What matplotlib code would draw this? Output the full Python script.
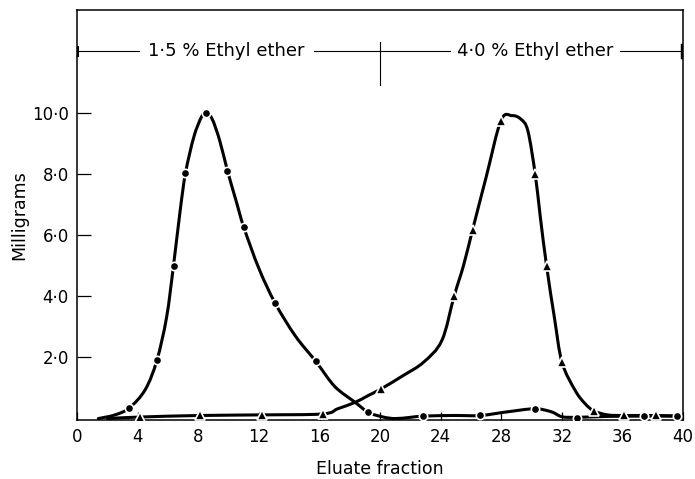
import matplotlib.pyplot as plt
from matplotlib.path import Path
from matplotlib.patches import PathPatch

plt.rcParams['font.family'] = ['DejaVu Sans']

# circle series (1.5 % ether eluate) - measured points
circ_x = [3.45, 5.26, 6.36, 7.15, 8.5, 9.92, 11.0, 13.07, 15.75, 19.23, 22.86, 26.6, 30.2, 33.0, 37.4, 39.6]
circ_y = [0.35, 1.9, 5.0, 8.02, 9.98, 8.1, 6.25, 3.77, 1.87, 0.2, 0.08, 0.1, 0.32, 0.02, 0.08, 0.08]

# triangle series (4.0 % ether eluate) - measured points
tri_x = [4.16, 8.1, 12.19, 16.2, 20.06, 24.88, 26.1, 27.97, 30.23, 30.98, 32.0, 34.1, 36.1, 38.2]
tri_y = [0.05, 0.1, 0.12, 0.15, 0.97, 4.0, 6.17, 9.74, 8.0, 5.0, 1.84, 0.25, 0.1, 0.1]

# hand drawn curves
circ_curve_x = [1.4, 2.5, 3.45, 4.5, 5.26, 5.9, 6.36, 6.8, 7.15, 7.7, 8.2, 8.5, 8.9, 9.4, 9.92,
                10.5, 11.0, 12.0, 13.07, 14.4, 15.75, 17.0, 18.35, 19.23, 20.2, 21.0, 22.0, 22.86,
                24.8, 26.6, 28.4, 30.2, 31.3, 32.0, 33.0, 35.0, 37.4, 39.6]
circ_curve_y = [0.0, 0.12, 0.35, 0.95, 1.9, 3.3, 5.0, 6.8, 8.02, 9.2, 9.85, 9.98, 9.8, 9.1, 8.1,
                7.1, 6.25, 4.9, 3.77, 2.7, 1.87, 1.05, 0.53, 0.2, 0.05, 0.0, 0.04, 0.08,
                0.1, 0.1, 0.22, 0.32, 0.22, 0.06, 0.04, 0.07, 0.08, 0.08]

tri_curve_x = [2.0, 4.16, 8.1, 12.19, 16.2, 17.2, 18.35, 19.2, 20.06, 21.5, 22.86, 24.07, 24.88,
               25.5, 26.1, 27.0, 27.97, 28.7, 29.3, 29.75, 30.23, 30.56, 30.98, 31.5, 32.0,
               32.87, 33.5, 34.1, 35.0, 36.1, 38.2, 39.6]
tri_curve_y = [0.0, 0.05, 0.1, 0.12, 0.15, 0.32, 0.53, 0.75, 0.97, 1.4, 1.84, 2.55, 4.0,
               5.0, 6.17, 7.9, 9.74, 9.9, 9.78, 9.4, 8.0, 6.63, 5.0, 3.3, 1.84,
               0.92, 0.5, 0.25, 0.12, 0.1, 0.1, 0.08]

xticks = list(range(0, 41, 4))
yticks = [2, 4, 6, 8, 10]
ytick_labels = ["2·0", "4·0", "6·0", "8·0", "10·0"]


def smooth_path(xs, ys, k=1/6.):
    # bezier segments through the traced points (catmull-rom style handles)
    verts = [(xs[0], ys[0])]
    codes = [Path.MOVETO]
    n = len(xs)
    for i in range(n - 1):
        x0, y0 = xs[max(i - 1, 0)], ys[max(i - 1, 0)]
        x1, y1 = xs[i], ys[i]
        x2, y2 = xs[i + 1], ys[i + 1]
        x3, y3 = xs[min(i + 2, n - 1)], ys[min(i + 2, n - 1)]
        verts += [(x1 + (x2 - x0) * k, y1 + (y2 - y0) * k),
                  (x2 - (x3 - x1) * k, y2 - (y3 - y1) * k),
                  (x2, y2)]
        codes += [Path.CURVE4] * 3
    return Path(verts, codes)


fig = plt.figure(figsize=(6.95, 4.79), dpi=100)
ax = fig.add_axes([0.111, 0.123, 0.872, 0.856])

for cx, cy in [(circ_curve_x, circ_curve_y), (tri_curve_x, tri_curve_y)]:
    ax.add_patch(PathPatch(smooth_path(cx, cy), fill=False, ec='black', lw=2.2,
                           capstyle='round', zorder=2))
ax.plot(circ_x, circ_y, 'o', color='black', ms=6, mec='white', mew=1.2, zorder=3)
ax.plot(tri_x, tri_y, '^', color='black', ms=7, mec='white', mew=1.2, zorder=3)

# solvent band across the top
band_y = 12.0
ax.plot([0, 4.1], [band_y, band_y], color='black', lw=0.8)
ax.plot([15.6, 24.6], [band_y, band_y], color='black', lw=0.8)
ax.plot([35.8, 40], [band_y, band_y], color='black', lw=0.8)
ax.plot([20, 20], [10.9, 12.3], color='black', lw=0.8)
ax.plot([0.05, 0.05], [11.85, 12.15], color='black', lw=1.5)
ax.plot([39.95, 39.95], [11.8, 12.2], color='black', lw=2.5)
ax.text(9.85, band_y, "1·5 % Ethyl ether", ha='center', va='center', fontsize=13)
ax.text(30.2, band_y, "4·0 % Ethyl ether", ha='center', va='center', fontsize=13)

ax.set_xlim(0, 40)
ax.set_ylim(-0.05, 13.35)
ax.set_xticks(xticks)
ax.set_xticklabels([str(t) for t in xticks])
ax.set_yticks(yticks)
ax.set_yticklabels(ytick_labels)
ax.tick_params(direction='in', length=6, width=0.9, labelsize=12, pad=6)
ax.tick_params(axis='y', length=10)
for s in ax.spines.values():
    s.set_linewidth(1.1)

ax.set_xlabel("Eluate fraction", fontsize=12.5, labelpad=10)
ax.set_ylabel("Milligrams", fontsize=12.5, labelpad=3)

fig.savefig("out.png", dpi=100)
